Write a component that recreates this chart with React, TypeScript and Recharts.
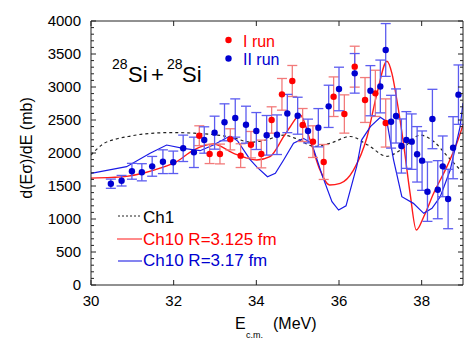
import {
  ComposedChart, Line, Scatter, ErrorBar, XAxis, YAxis,
} from 'recharts'

// measured points, II run (blue)
const BLUE_E = [30.48, 30.74, 30.99, 31.23, 31.48, 31.74, 31.99, 32.23, 32.49, 32.74, 32.99, 33.23, 33.49, 33.75, 34.0, 34.25, 34.5, 34.75, 35.0, 35.25, 35.5, 35.75, 36.0, 36.38, 36.76, 37.0, 37.13, 37.26, 37.38, 37.51, 37.63, 37.76, 37.89, 38.01, 38.14, 38.26, 38.39, 38.51, 38.64, 38.76, 38.89]
const BLUE_Y = [1535, 1580, 1723, 1708, 1798, 1868, 1859, 2071, 2010, 2197, 2308, 2465, 2530, 2429, 2333, 2268, 2277, 2598, 2565, 2333, 2383, 2707, 2970, 3207, 2944, 3008, 3561, 2474, 2561, 2106, 2197, 2172, 1980, 1884, 1414, 2515, 1444, 1798, 1303, 2080, 2884]
const BLUE_ERR = [70, 80, 120, 130, 150, 180, 170, 200, 230, 200, 250, 280, 290, 280, 280, 300, 300, 290, 280, 180, 290, 320, 330, 300, 380, 400, 400, 400, 410, 410, 430, 420, 420, 450, 450, 450, 440, 460, 450, 470, 450]

// measured points, I run (red)
const RED_E = [32.62, 32.87, 33.12, 33.37, 33.62, 33.87, 34.12, 34.37, 34.62, 34.87, 35.12, 35.37, 35.63, 35.87, 36.13, 36.38, 36.63, 36.88, 37.13]
const RED_Y = [2262, 1985, 1985, 2207, 1960, 2126, 1985, 2500, 2889, 3091, 2424, 2172, 1864, 2853, 2591, 3308, 2803, 2904, 2455]
const RED_ERR = [150, 145, 150, 160, 180, 200, 210, 200, 240, 235, 250, 240, 265, 300, 290, 310, 340, 350, 365]

// Ch1 calculation (dashed)
const CH1_E = [30.0, 30.3, 30.6, 30.9, 31.3, 32.0, 32.5, 33.0, 33.4, 33.85, 34.2, 34.65, 35.0, 35.4, 35.8, 36.27, 36.7, 37.16, 37.5, 37.97, 38.3, 38.61, 39.0]
const CH1_Y = [1970, 2140, 2210, 2250, 2290, 2310, 2300, 2275, 2240, 2165, 2190, 2270, 2210, 2100, 2150, 2250, 2120, 1950, 2050, 2270, 2170, 1960, 1700]

// Ch10 R=3.125 fm
const R1_E = [30.0, 30.5, 30.86, 31.3, 31.67, 32.07, 32.48, 32.96, 33.45, 34.01, 34.33, 34.66, 34.82, 35.06, 35.3, 35.54, 35.77, 36.03, 36.35, 36.68, 36.92, 37.16, 37.28, 37.4, 37.56, 37.72, 37.87, 38.05, 38.29, 38.61, 38.85, 39.0]
const R1_Y = [1620, 1630, 1645, 1700, 1770, 1870, 2045, 2136, 1995, 1894, 1944, 2247, 2398, 2576, 2197, 1742, 1515, 1541, 1742, 2247, 2904, 3390, 3207, 2803, 2147, 1389, 833, 1035, 1389, 1793, 2147, 2424]

// Ch10 R=3.17 fm
const R2_E = [30.0, 30.86, 31.43, 31.83, 32.23, 32.64, 32.96, 33.37, 33.55, 33.85, 34.01, 34.27, 34.46, 34.66, 34.9, 35.14, 35.34, 35.6, 35.83, 35.99, 36.17, 36.43, 36.55, 36.76, 37.0, 37.16, 37.32, 37.52, 37.8, 38.05, 38.25, 38.45, 38.69, 38.93, 39.0]
const R2_Y = [1692, 1793, 1995, 2121, 2071, 2035, 2121, 2260, 2180, 1900, 1790, 1641, 1692, 1894, 2147, 2222, 2147, 1650, 1262, 1136, 1200, 1800, 2200, 2400, 2540, 2474, 1894, 1338, 1237, 1086, 1162, 1338, 1742, 2398, 2757]

const Y_TICKS = Array.from({ length: 41 }, (_, i) => i * 100)
const X_TICKS = [30, 32, 34, 36, 38]

const FONT = '"Liberation Sans", Arial, Helvetica, sans-serif'
const AXIS = '#222'

const zip = (xs: number[], ys: number[], es?: number[]) =>
  xs.map((x, i) => ({ x, y: ys[i], e: es ? es[i] : 0 }))

const blue = zip(BLUE_E, BLUE_Y, BLUE_ERR)
const red = zip(RED_E, RED_Y, RED_ERR)
const ch1 = zip(CH1_E, CH1_Y)
const r1 = zip(R1_E, R1_Y)
const r2 = zip(R2_E, R2_Y)

const LeftTick = ({ x, y, payload }: any) => {
  const major = payload.value % 500 === 0
  return (
    <g>
      <line x1={x} x2={x + (major ? 5 : 3)} y1={y} y2={y} stroke={AXIS} />
      {major && (
        <text x={x - 10} y={y + 5} textAnchor="end" fontSize={15} fontFamily={FONT} fill="#000">
          {payload.value}
        </text>
      )}
    </g>
  )
}

const RightTick = ({ x, y, payload }: any) => {
  const major = payload.value % 500 === 0
  return <line x1={x} x2={x - (major ? 5 : 3)} y1={y} y2={y} stroke={AXIS} />
}

const BottomTick = ({ x, y, payload }: any) => (
  <g>
    <line x1={x} x2={x} y1={y} y2={y - 5} stroke={AXIS} />
    <text x={x} y={y + 21} textAnchor="middle" fontSize={15} fontFamily={FONT} fill="#000">
      {payload.value}
    </text>
  </g>
)

const TopTick = ({ x, y }: any) => (
  <line x1={x} x2={x} y1={y} y2={y + 5} stroke={AXIS} />
)

const dot = (color: string) => (p: any) => (
  <circle cx={p.cx} cy={p.cy} r={3.2} fill={color} />
)

export default function App() {
  return (
    <div style={{ position: 'absolute', left: 0, top: 0, width: 464, height: 347 }}>
      <ComposedChart width={464} height={347} margin={{ top: 20, right: 0, bottom: 61, left: 90 }}>
        <XAxis xAxisId={0} dataKey="x" type="number" domain={[30, 39]} ticks={X_TICKS}
          height={1} tickSize={0} tickMargin={0} tickLine={false} interval={0}
          axisLine={{ stroke: AXIS }} tick={<BottomTick />} allowDataOverflow />
        <XAxis xAxisId="top" orientation="top" dataKey="x" type="number" domain={[30, 39]} ticks={X_TICKS}
          height={1} tickSize={0} tickMargin={0} tickLine={false} interval={0}
          axisLine={{ stroke: AXIS }} tick={<TopTick />} allowDataOverflow />
        <YAxis yAxisId={0} dataKey="y" type="number" domain={[0, 4000]} ticks={Y_TICKS}
          width={1} tickSize={0} tickMargin={0} tickLine={false} interval={0}
          axisLine={{ stroke: AXIS }} tick={<LeftTick />} allowDataOverflow />
        <YAxis yAxisId="right" orientation="right" dataKey="y" type="number" domain={[0, 4000]} ticks={Y_TICKS}
          width={1} tickSize={0} tickMargin={0} tickLine={false} interval={0}
          axisLine={{ stroke: AXIS }} tick={<RightTick />} allowDataOverflow />

        <Line data={ch1} dataKey="y" type="monotone" stroke="#222" strokeWidth={1.2}
          strokeDasharray="3 3" dot={false} isAnimationActive={false} />
        <Line data={r1} dataKey="y" type="monotone" stroke="#ff1a1a" strokeWidth={1.4}
          dot={false} isAnimationActive={false} />
        <Line data={r2} dataKey="y" type="linear" stroke="#1a1ae6" strokeWidth={1.2}
          dot={false} isAnimationActive={false} />

        <Scatter data={red} dataKey="y" shape={dot('#ff0000')} isAnimationActive={false}>
          <ErrorBar dataKey="e" direction="y" width={5} stroke="#f27a7a" strokeWidth={1.3} />
        </Scatter>
        <Scatter data={blue} dataKey="y" shape={dot('#0000d0')} isAnimationActive={false}>
          <ErrorBar dataKey="e" direction="y" width={5} stroke="#5c5cf0" strokeWidth={1.3} />
        </Scatter>
      </ComposedChart>

      <svg width={464} height={347} style={{ position: 'absolute', left: 0, top: 0, pointerEvents: 'none' }}
        fontFamily={FONT}>
        {/* reaction label */}
        <text x={112} y={69} fontSize={14}>28</text>
        <text x={128} y={82} fontSize={22}>Si</text>
        <text x={151} y={82} fontSize={22}>+</text>
        <text x={167} y={69} fontSize={14}>28</text>
        <text x={182} y={82} fontSize={22}>Si</text>

        {/* run legend */}
        <circle cx={228.5} cy={40} r={3.2} fill="#ff0000" />
        <text x={243} y={46.5} fontSize={16} fill="#ff0000">I run</text>
        <circle cx={228.5} cy={58.5} r={3.2} fill="#0000d0" />
        <text x={243} y={64.5} fontSize={16} fill="#0000d0">II run</text>

        {/* curve legend */}
        <line x1={118} x2={142} y1={216} y2={216} stroke="#222" strokeDasharray="2 2" />
        <text x={143} y={222.5} fontSize={17} fill="#000">Ch1</text>
        <line x1={117} x2={142} y1={239} y2={239} stroke="#ff4d4d" strokeWidth={1.3} />
        <text x={143} y={244.5} fontSize={17} fill="#ff0000">Ch10 R=3.125 fm</text>
        <line x1={118} x2={142} y1={261} y2={261} stroke="#3333e6" strokeWidth={1.2} />
        <text x={143} y={266} fontSize={17} fill="#0000d0">Ch10 R=3.17 fm</text>

        {/* axis titles */}
        <text transform="translate(32,148) rotate(-90)" textAnchor="middle" fontSize={16}>d(Eσ)/dE (mb)</text>
        <text x={235} y={329} fontSize={16}>E</text>
        <text x={246} y={338} fontSize={9}>c.m.</text>
        <text x={273} y={329} fontSize={16}>(MeV)</text>
      </svg>
    </div>
  )
}
